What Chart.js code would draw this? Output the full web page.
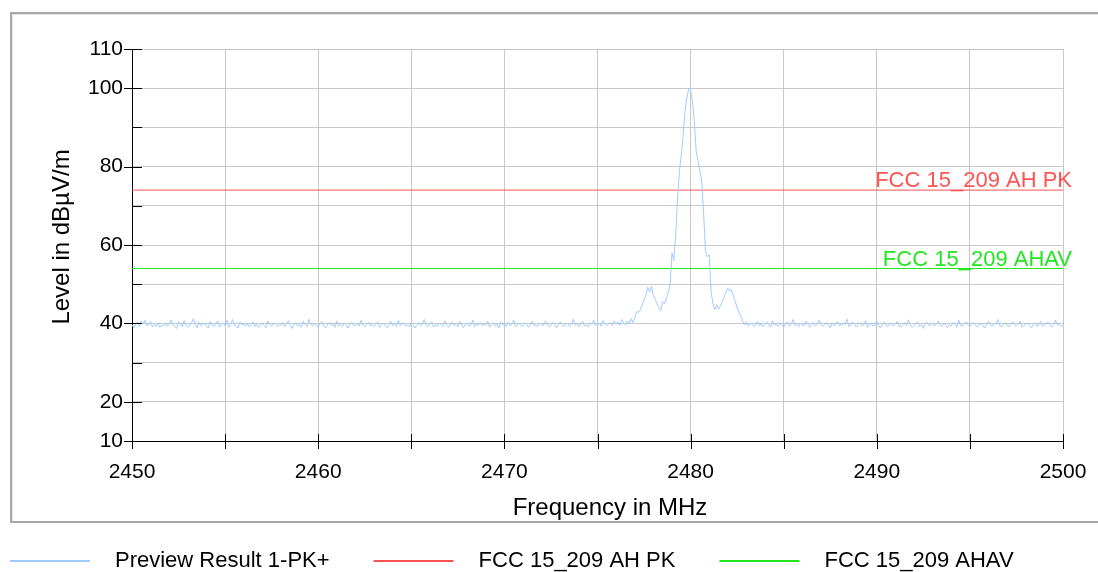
<!DOCTYPE html>
<html><head><meta charset="utf-8">
<script src="https://cdn.jsdelivr.net/npm/chart.js@4/dist/chart.umd.min.js"></script>
<style>
html,body{margin:0;padding:0;width:1098px;height:572px;overflow:hidden;background:#fff;}
#frame{position:absolute;left:10px;top:12px;width:1200px;height:507px;border:2px solid #a9a9a9;box-shadow:inset 1px 1px 0 #e4e4e4;}
#c{position:absolute;left:0;top:0;}
</style></head><body>
<div id="frame"></div>
<canvas id="c" width="1098" height="572"></canvas>
<script>
// ---- data ----
const freqStart = 2450;      // MHz, first sweep point
const freqStep = 0.1;        // MHz between sweep points
const levels = [
 // 2450.0 - 2476.9
 39.6,38.9,39.8,40.3,39.2,40.6,39.9,40.8,39.4,39.7,
 40.5,39.1,39.6,39.3,40.2,39.0,39.5,39.4,40.1,39.2,
 39.8,40.9,39.6,39.3,38.7,40.4,39.9,39.1,40.7,39.5,
 39.0,39.6,40.2,41.2,39.7,38.9,40.3,39.4,39.8,40.0,
 39.3,38.8,40.5,39.6,39.2,39.9,40.6,39.1,39.5,40.1,
 39.4,40.8,39.0,39.7,41.0,39.5,39.2,38.8,40.3,39.6,
 39.9,39.3,40.0,39.1,39.6,40.4,39.2,39.8,39.0,39.5,
 40.2,39.4,38.9,40.6,39.7,39.3,40.1,39.8,39.2,39.6,
 39.5,40.3,39.1,39.9,40.7,39.4,38.7,39.8,40.2,39.3,
 39.7,39.0,40.5,39.6,39.2,41.1,39.8,39.3,40.0,39.5,
 39.1,39.9,40.4,39.3,38.9,39.7,40.2,39.5,39.8,39.0,
 40.6,39.4,39.7,39.2,40.1,39.6,38.8,39.9,40.3,39.4,
 39.6,40.0,39.3,40.8,39.5,39.1,39.8,40.2,39.4,39.7,
 39.2,39.8,40.4,39.0,39.6,40.1,39.3,38.9,39.7,40.5,
 39.4,39.9,39.2,40.7,39.5,39.8,40.0,39.3,39.6,39.1,
 40.3,39.7,38.8,39.5,40.2,39.4,39.9,41.0,39.6,39.2,
 39.8,40.4,39.1,39.6,39.3,40.0,39.7,39.2,40.6,39.5,
 39.0,39.9,40.3,39.4,39.8,39.1,40.5,39.6,38.9,39.7,
 40.1,39.3,39.6,40.8,39.2,39.9,39.5,40.2,39.4,39.8,
 39.5,40.6,39.0,39.7,40.1,39.3,39.8,38.8,40.4,39.6,
 39.9,39.2,40.3,39.5,39.7,40.9,39.1,39.6,40.0,39.4,
 39.3,40.2,39.7,39.0,39.8,40.5,39.4,39.6,39.2,40.1,
 39.7,39.4,40.6,39.9,39.1,39.5,40.3,39.8,38.9,39.6,
 40.4,39.5,39.2,39.8,40.0,39.3,39.7,41.1,39.6,39.9,
 39.2,39.8,40.5,39.4,39.6,39.1,40.2,39.7,40.8,39.5,
 39.6,40.1,39.3,40.7,39.9,39.4,39.8,40.3,39.5,40.6,
 39.8,40.4,39.5,41.0,40.2,39.7,40.6,40.0,41.2,40.2,
 // 2477.0 - 2482.9 (emission)
 41.5,43.0,42.8,43.5,44.8,46.0,47.2,49.2,48.0,49.5,
 47.0,46.2,45.0,44.0,43.2,45.5,45.0,46.5,47.8,50.0,
 58.0,56.0,62.5,72.0,79.0,83.0,88.0,94.0,97.5,100.0,
 99.6,96.5,91.5,84.0,81.5,79.0,76.0,68.0,58.5,57.0,
 57.5,48.0,45.0,43.5,44.8,43.6,44.5,45.5,46.8,48.0,
 49.0,48.2,48.6,47.0,45.5,44.0,42.8,41.8,40.5,39.6,
 // 2483.0 - 2500.0
 40.4,39.3,39.8,40.1,39.2,39.6,40.5,39.4,39.9,39.1,
 39.7,40.3,39.5,39.0,40.7,39.6,39.8,39.2,40.2,39.5,
 39.1,39.9,40.4,39.3,39.7,41.0,39.5,39.8,39.2,40.1,
 39.6,39.4,40.6,39.8,39.0,39.7,40.2,39.3,39.9,40.8,
 39.5,39.2,39.8,40.3,39.6,38.9,40.0,39.4,39.7,40.5,
 39.3,40.1,39.6,39.9,41.1,39.2,39.5,40.4,39.8,39.1,
 39.7,40.2,39.4,39.6,40.7,39.0,39.8,40.0,39.3,39.5,
 40.6,39.4,38.8,39.9,40.3,39.6,39.2,40.1,39.7,39.4,
 39.8,40.5,39.3,39.1,39.7,40.2,39.5,40.9,39.6,39.0,
 39.5,39.9,40.4,39.2,39.6,38.7,39.8,40.3,39.4,39.7,
 40.1,39.3,39.8,40.6,39.5,39.2,40.0,39.7,38.9,39.6,
 39.4,40.2,39.7,39.0,40.8,39.5,39.3,39.9,40.4,39.6,
 39.2,39.8,40.3,39.5,39.1,39.7,40.1,39.4,38.8,39.9,
 40.5,39.6,39.3,40.0,39.7,41.0,39.4,39.2,39.8,40.2,
 39.5,39.1,39.9,40.4,39.6,39.3,39.7,40.6,39.0,39.5,
 39.8,40.2,39.4,38.9,39.6,40.1,39.3,39.7,40.5,39.2,
 39.6,39.9,40.3,39.4,39.1,39.7,40.8,39.5,39.8,39.2,
 39.5
];
const limitFreqs = [2450, 2500];
const pkLimit = [74, 74];
const avLimit = [54, 54];
const seriesNames = ['Preview Result 1-PK+', 'FCC 15_209 AH PK', 'FCC 15_209 AHAV'];
const seriesColors = ['#9fcbff', '#ff5252', '#22e622'];
const yTickLabels = [10, 20, 40, 60, 80, 100, 110];
const xTickLabels = [2450, 2460, 2470, 2480, 2490, 2500];
const xTitle = 'Frequency in MHz';
const yTitle = 'Level in dBµV/m';

// ---- build ----
const FONT = '"Liberation Sans", Arial, sans-serif';
const traceData = levels.map((v, i) => ({x: +(freqStart + i * freqStep).toFixed(1), y: v}));
const pkData = limitFreqs.map((f, i) => ({x: f, y: pkLimit[i]}));
const avData = limitFreqs.map((f, i) => ({x: f, y: avLimit[i]}));

const decor = {
  id: 'decor',
  afterDraw(chart) {
    const {ctx, chartArea: a, scales: {x, y}} = chart;
    ctx.save();
    // tick marks
    ctx.strokeStyle = '#000'; ctx.lineWidth = 1;
    ctx.beginPath();
    y.ticks.forEach(t => {
      const py = Math.round(y.getPixelForValue(t.value)) + 0.5;
      const lab = yTickLabels.includes(t.value);
      ctx.moveTo(a.left - (lab ? 8 : 0), py); ctx.lineTo(a.left + 10, py);
    });
    x.ticks.forEach(t => {
      const px = Math.round(x.getPixelForValue(t.value)) + 0.5;
      ctx.moveTo(px, a.bottom - 7); ctx.lineTo(px, a.bottom + 8);
    });
    ctx.stroke();
    // limit labels
    ctx.font = '22px ' + FONT; ctx.textAlign = 'right'; ctx.textBaseline = 'alphabetic';
    [1, 2].forEach(di => {
      const ds = chart.data.datasets[di];
      const last = ds.data[ds.data.length - 1];
      ctx.fillStyle = ds.borderColor;
      ctx.fillText(ds.label, x.getPixelForValue(last.x) + 9, y.getPixelForValue(last.y) - 3);
    });
    // axis titles
    ctx.fillStyle = '#000'; ctx.font = '24px ' + FONT; ctx.textAlign = 'center'; ctx.textBaseline = 'middle';
    ctx.fillText(xTitle, 610, 508);
    ctx.save(); ctx.translate(62, 237); ctx.rotate(-Math.PI / 2); ctx.fillText(yTitle, 0, 0); ctx.restore();
    // legend
    ctx.font = '22px ' + FONT; ctx.textAlign = 'left'; ctx.textBaseline = 'middle';
    let lx = 10; const ly = 561;
    chart.data.datasets.forEach(ds => {
      ctx.strokeStyle = ds.borderColor; ctx.lineWidth = 2;
      ctx.beginPath(); ctx.moveTo(lx, ly); ctx.lineTo(lx + 80, ly); ctx.stroke();
      ctx.fillStyle = '#000';
      ctx.fillText(ds.label, lx + 105, ly);
      lx += 105 + ctx.measureText(ds.label).width + 44;
    });
    ctx.restore();
  }
};

new Chart(document.getElementById('c'), {
  type: 'line',
  data: {
    datasets: [
      {label: seriesNames[0], data: traceData, borderColor: seriesColors[0], borderWidth: 1, pointRadius: 0, tension: 0},
      {label: seriesNames[1], data: pkData, borderColor: seriesColors[1], borderWidth: 1, pointRadius: 0},
      {label: seriesNames[2], data: avData, borderColor: seriesColors[2], borderWidth: 1, pointRadius: 0}
    ]
  },
  options: {
    responsive: false, animation: false, devicePixelRatio: 1,
    layout: {padding: {left: 0, right: 35, top: 49, bottom: 0}},
    plugins: {legend: {display: false}, tooltip: {enabled: false}},
    scales: {
      x: {
        type: 'linear', min: 2450, max: 2500,
        afterFit: s => { s.height = 131; s.paddingLeft = 0; s.paddingRight = 0; },
        grid: {color: '#c8c8c8', drawTicks: false},
        border: {color: '#000', width: 1},
        ticks: {stepSize: 5, padding: 19, color: '#000', font: {family: FONT, size: 21}, maxRotation: 0, autoSkip: false,
          callback: v => xTickLabels.includes(v) ? String(v) : ''}
      },
      y: {
        type: 'linear', min: 10, max: 110,
        afterFit: s => { s.width = 132; s.paddingTop = 0; s.paddingBottom = 0; },
        grid: {color: '#c8c8c8', drawTicks: false},
        border: {color: '#000', width: 1},
        ticks: {stepSize: 10, padding: 9, color: '#000', font: {family: FONT, size: 21}, autoSkip: false,
          callback: v => yTickLabels.includes(v) ? String(v) : ''}
      }
    }
  },
  plugins: [decor]
});
</script>
</body></html>
